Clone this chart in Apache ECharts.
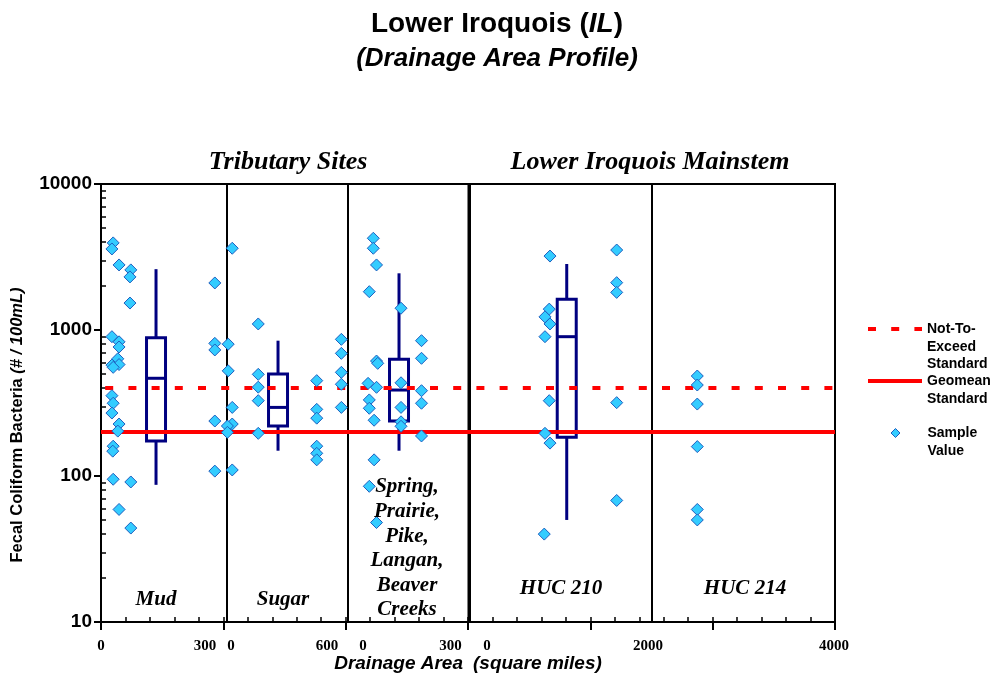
<!DOCTYPE html>
<html>
<head>
<meta charset="utf-8">
<title>Lower Iroquois (IL) - Drainage Area Profile</title>
<script src="https://cdn.jsdelivr.net/npm/echarts@6/dist/echarts.min.js"></script>
<style>
  html, body { margin: 0; padding: 0; background: #ffffff; }
  #chart { width: 994px; height: 681px; }
</style>
</head>
<body>
<div id="chart"></div>
<script>
// ---- Data ---------------------------------------------------------------
// Site groups along the drainage-area axis, and the x range of each group
const panelNames = ['Mud', 'Sugar', 'Spring,\nPrairie,\nPike,\nLangan,\nBeaver\nCreeks', 'HUC 210', 'HUC 214'];
const panelMin = [0, 0, 0, 0, 2000];
const panelMax = [300, 600, 300, 2000, 4000];
const panelTickLabels = [[0, 300], [0, 600], [0, 300], [0, 2000], [4000]];
const sectionTitles = ['Tributary Sites', 'Lower Iroquois Mainstem'];

// Fecal coliform samples: [drainage area (sq mi), count (#/100mL)]
const mudSamples = [
  [29, 3950], [26, 3590], [43, 2790], [71, 2580], [69, 2310], [69, 1530], [271, 2100],
  [26, 900], [43, 830], [43, 765], [40, 635], [26, 575], [43, 580], [29, 555],
  [271, 810], [271, 730],
  [26, 355], [29, 315], [26, 270], [43, 227], [40, 203], [271, 238],
  [29, 160], [28, 148], [271, 108], [29, 95], [71, 91], [43, 59], [71, 44]
];
const sugarSamples = [
  [26, 3630], [155, 1100], [6, 800], [6, 525], [155, 497], [155, 406], [155, 328], [26, 295],
  [445, 450], [445, 286], [445, 249], [567, 863], [567, 692], [567, 513], [567, 425], [567, 295],
  [26, 227], [2, 220], [2, 199], [155, 196], [445, 160], [445, 143], [445, 129], [26, 110]
];
const springSamples = [
  [63, 4250], [63, 3630], [71, 2790], [53, 1830], [132, 1410], [183, 845], [183, 640],
  [71, 613], [74, 591], [50, 431], [71, 405], [132, 435], [183, 384], [183, 315],
  [53, 332], [53, 291], [132, 295], [65, 241], [132, 235], [132, 219], [183, 188],
  [65, 129], [53, 85], [71, 48]
];
const huc210Samples = [
  [879, 3210], [1612, 3530], [1612, 2110], [1612, 1810], [871, 1390], [824, 1230],
  [879, 1100], [824, 900], [871, 328], [1612, 318], [824, 196], [879, 168], [1612, 68], [816, 40]
];
const huc214Samples = [
  [2495, 484], [2495, 420], [2495, 311], [2495, 159], [2495, 59], [2495, 50]
];

// Box summaries: [drainage area, whisker low, Q1, median, Q3, whisker high]
const mudBox = [131, 87, 174, 467, 885, 2610];
const sugarBox = [253, 149, 220, 295, 500, 845];
const springBox = [127, 149, 238, 388, 630, 2445];
const huc210Box = [1063, 50, 184, 900, 1623, 2832];

// Water-quality standards (#/100mL)
const notToExceedStandard = 400;
const geomeanStandard = 200;

// Log axis range and minor tick values
const yMin = 10;
const yMax = 10000;
const yMinorTicks = [];
[10, 100, 1000].forEach(function (decade) {
  for (let k = 2; k <= 9; k++) yMinorTicks.push(k * decade);
});

// ---- Layout -------------------------------------------------------------
const samples = [mudSamples, sugarSamples, springSamples, huc210Samples, huc214Samples];
const boxes = [mudBox, sugarBox, springBox, huc210Box, null];

const plotTop = 184, plotHeight = 438;
const plotLeft = 101, plotWidth = 734;
const panelEdges = [[101, 227], [227, 348], [348, 468.5], [470, 652], [652, 835]];
// horizontal nudge (px) of each panel's first / last tick label
const labelShift = [[0, -22], [4, -21], [15, -18], [17, -4], [0, -1]];
const labelCenters = [[156, 600], [283, 600], [407, 548.5], [561, 589], [745, 589]];

const SANS = 'Liberation Sans, Arial, sans-serif';
const SERIF = 'Liberation Serif, Times New Roman, serif';
const NAVY = '#000080';
const RED = '#FF0000';
const CYAN = '#33CCFF';
const EDGE = '#1F5FBF';
const DASH = [8, 15.2];

function shiftPad(d) {
  return d >= 0 ? [0, 0, 0, 2 * d] : [0, -2 * d, 0, 0];
}

const grids = [{
  left: plotLeft, top: plotTop, width: plotWidth, height: plotHeight,
  show: false, containLabel: false, outerBoundsMode: 'none'
}];
panelEdges.forEach(function (e) {
  grids.push({
    left: e[0], top: plotTop, width: e[1] - e[0], height: plotHeight,
    show: true, borderColor: '#000', borderWidth: 2, backgroundColor: 'transparent',
    containLabel: false, outerBoundsMode: 'none'
  });
});

const xAxes = [
  // whole-frame axis: axis line, minor ticks and axis title
  {
    gridIndex: 0, type: 'value', min: 0, max: 30, interval: 1, position: 'bottom',
    axisLine: { show: true, lineStyle: { color: '#000', width: 2 } },
    axisTick: { show: true, inside: true, length: 5, lineStyle: { color: '#000', width: 1.5 } },
    axisLabel: { show: false }, splitLine: { show: false },
    name: '{a|Drainage Area}   {b|(square miles)}',
    nameLocation: 'middle', nameGap: 32, nameMoveOverlap: false,
    nameTextStyle: {
      color: '#000',
      rich: {
        a: { fontFamily: SANS, fontWeight: 'bold', fontStyle: 'italic', fontSize: 19, color: '#000' },
        b: { fontFamily: SANS, fontWeight: 'bold', fontStyle: 'italic', fontSize: 19, color: '#000' }
      }
    }
  },
  // major ticks crossing below the axis
  {
    gridIndex: 0, type: 'value', min: 0, max: 30, interval: 5, position: 'bottom',
    axisLine: { show: false },
    axisTick: { show: true, inside: false, length: 8, lineStyle: { color: '#000', width: 2 } },
    axisLabel: { show: false }, splitLine: { show: false }
  }
];
panelMin.forEach(function (mn, i) {
  const labStyle = { fontFamily: SERIF, fontWeight: 'bold', fontSize: 15, color: '#000' };
  xAxes.push({
    gridIndex: i + 1, type: 'value', min: mn, max: panelMax[i], position: 'bottom',
    axisLine: { show: false }, axisTick: { show: false }, splitLine: { show: false },
    axisLabel: {
      show: true, margin: 17, customValues: panelTickLabels[i],
      fontFamily: SERIF, fontWeight: 'bold', fontSize: 15, color: '#000',
      formatter: function (v) {
        return v === mn ? '{lo|' + v + '}' : '{hi|' + v + '}';
      },
      rich: {
        lo: Object.assign({ padding: shiftPad(labelShift[i][0]) }, labStyle),
        hi: Object.assign({ padding: shiftPad(labelShift[i][1]) }, labStyle)
      }
    }
  });
});

const yAxes = [
  {
    gridIndex: 0, type: 'log', logBase: 10, min: yMin, max: yMax, position: 'left',
    axisLine: { show: true, lineStyle: { color: '#000', width: 2 } },
    axisTick: { show: true, inside: false, length: 7, lineStyle: { color: '#000', width: 2 } },
    axisLabel: {
      show: true, margin: 9, fontFamily: SANS, fontWeight: 'bold', fontSize: 19, color: '#000',
      formatter: function (v) { return String(Math.round(v)); }
    },
    splitLine: { show: false },
    name: 'Fecal Coliform Bacteria {i|(# / 100mL)}',
    nameLocation: 'middle', nameGap: 75, nameMoveOverlap: false,
    nameTextStyle: {
      fontFamily: SANS, fontWeight: 'bold', fontSize: 16.5, color: '#000',
      padding: [0, 44, 0, 0],
      rich: { i: { fontFamily: SANS, fontWeight: 'bold', fontStyle: 'italic', fontSize: 16.5, color: '#000' } }
    }
  },
  {
    gridIndex: 0, type: 'log', logBase: 10, min: yMin, max: yMax, position: 'left',
    axisLine: { show: false },
    axisTick: { show: true, inside: true, length: 5, customValues: yMinorTicks, lineStyle: { color: '#000', width: 1.5 } },
    axisLabel: { show: false }, splitLine: { show: false }
  }
];
panelMin.forEach(function (mn, i) {
  yAxes.push({ gridIndex: i + 1, type: 'log', logBase: 10, min: yMin, max: yMax, show: false, splitLine: { show: false } });
});

function renderBox(params, api) {
  const x = api.value(0);
  const pt = function (v) { return api.coord([x, v]); };
  const lo = pt(api.value(1)), q1 = pt(api.value(2)), md = pt(api.value(3)),
        q3 = pt(api.value(4)), hi = pt(api.value(5));
  const cx = md[0], w = 19;
  const st = { stroke: NAVY, lineWidth: 3, fill: 'transparent' };
  return {
    type: 'group',
    children: [
      { type: 'line', shape: { x1: cx, y1: hi[1], x2: cx, y2: q3[1] }, style: st },
      { type: 'line', shape: { x1: cx, y1: q1[1], x2: cx, y2: lo[1] }, style: st },
      { type: 'rect', shape: { x: cx - w / 2, y: q3[1], width: w, height: q1[1] - q3[1] }, style: st },
      { type: 'line', shape: { x1: cx - w / 2, y1: md[1], x2: cx + w / 2, y2: md[1] }, style: st }
    ]
  };
}

const series = [
  {
    name: 'Not-To-Exceed Standard', type: 'line', xAxisIndex: 0, yAxisIndex: 0,
    data: [], symbol: 'none', z: 3,
    lineStyle: { color: RED, width: 4, type: DASH },
    markLine: {
      silent: true, symbol: ['none', 'none'], label: { show: false },
      lineStyle: { color: RED, width: 4, type: DASH, dashOffset: 19 },
      emphasis: { disabled: true },
      data: [{ yAxis: notToExceedStandard }]
    }
  },
  {
    name: 'Geomean Standard', type: 'line', xAxisIndex: 0, yAxisIndex: 0,
    data: [], symbol: 'none', z: 3,
    lineStyle: { color: RED, width: 4, type: 'solid' },
    markLine: {
      silent: true, symbol: ['none', 'none'], label: { show: false },
      lineStyle: { color: RED, width: 4, type: 'solid' },
      emphasis: { disabled: true },
      data: [{ yAxis: geomeanStandard }]
    }
  }
];
boxes.forEach(function (b, i) {
  if (!b) return;
  series.push({
    type: 'custom', xAxisIndex: i + 2, yAxisIndex: i + 2, z: 4, silent: true,
    encode: { x: 0, y: [1, 2, 3, 4, 5] },
    renderItem: renderBox, data: [b]
  });
});
samples.forEach(function (s, i) {
  series.push({
    name: 'Sample Value', type: 'scatter', xAxisIndex: i + 2, yAxisIndex: i + 2, z: 5,
    symbol: 'diamond', symbolSize: 12,
    itemStyle: { color: CYAN, borderColor: EDGE, borderWidth: 1, opacity: 1 },
    emphasis: { disabled: true },
    data: s
  });
});

// Legend text blocks are padded with blank lines so the key sits on the first line
const legendText = {
  fontFamily: SANS, fontWeight: 'bold', fontSize: 14, lineHeight: 17.7, color: '#000'
};
const legends = [
  {
    data: ['Not-To-Exceed Standard'], left: 866, top: 329 - 17.7 * 2.5, orient: 'vertical', padding: 0,
    selectedMode: false, itemWidth: 54, itemHeight: 14,
    itemStyle: { opacity: 0 },
    lineStyle: { color: RED, width: 4, type: DASH },
    formatter: function () { return '\n\nNot-To-\nExceed\nStandard'; },
    textStyle: legendText
  },
  {
    data: ['Geomean Standard'], left: 866, top: 381 - 17.7 * 1.5, orient: 'vertical', padding: 0,
    selectedMode: false, itemWidth: 54, itemHeight: 14,
    itemStyle: { opacity: 0 },
    lineStyle: { color: RED, width: 4, type: 'solid' },
    formatter: function () { return '\nGeomean\nStandard'; },
    textStyle: legendText
  },
  {
    // the diamond is centred in a 54px key; the box is laid out from the diamond's own edge
    data: ['Sample Value'], left: 890.5, top: 433 - 17.7 * 1.5, orient: 'vertical', padding: 0,
    selectedMode: false, itemWidth: 54, itemHeight: 9, symbolKeepAspect: true,
    icon: 'path://M5,0 L10,5 L5,10 L0,5 Z',
    itemStyle: { color: CYAN, borderColor: EDGE, borderWidth: 1 },
    formatter: function () { return '\nSample\nValue'; },
    textStyle: legendText
  }
];

const graphics = [
  {
    type: 'text', x: 288, y: 162, silent: true,
    style: { text: sectionTitles[0], fontFamily: SERIF, fontWeight: 'bold', fontStyle: 'italic', fontSize: 26, fill: '#000', align: 'center', verticalAlign: 'middle' }
  },
  {
    type: 'text', x: 650, y: 162, silent: true,
    style: { text: sectionTitles[1], fontFamily: SERIF, fontWeight: 'bold', fontStyle: 'italic', fontSize: 26, fill: '#000', align: 'center', verticalAlign: 'middle' }
  }
];
panelNames.forEach(function (n, i) {
  graphics.push({
    type: 'text', x: labelCenters[i][0], y: labelCenters[i][1], silent: true, z: 10,
    style: {
      text: n, fontFamily: SERIF, fontWeight: 'bold', fontStyle: 'italic', fontSize: 21,
      lineHeight: 24.6, fill: '#000', align: 'center', verticalAlign: 'middle'
    }
  });
});

const chart = echarts.init(document.getElementById('chart'), null, { renderer: 'canvas' });
chart.setOption({
  backgroundColor: '#ffffff',
  animation: false,
  title: [
    {
      text: 'Lower Iroquois ({i|IL})', left: 'center', top: 5,
      textStyle: {
        fontFamily: SANS, fontWeight: 'bold', fontSize: 28, color: '#000',
        rich: { i: { fontFamily: SANS, fontWeight: 'bold', fontStyle: 'italic', fontSize: 28, color: '#000' } }
      }
    },
    {
      text: '(Drainage Area Profile)', left: 'center', top: 41,
      textStyle: { fontFamily: SANS, fontWeight: 'bold', fontStyle: 'italic', fontSize: 26, color: '#000' }
    }
  ],
  tooltip: { show: false },
  legend: legends,
  grid: grids,
  xAxis: xAxes,
  yAxis: yAxes,
  series: series,
  graphic: graphics
});
</script>
</body>
</html>
